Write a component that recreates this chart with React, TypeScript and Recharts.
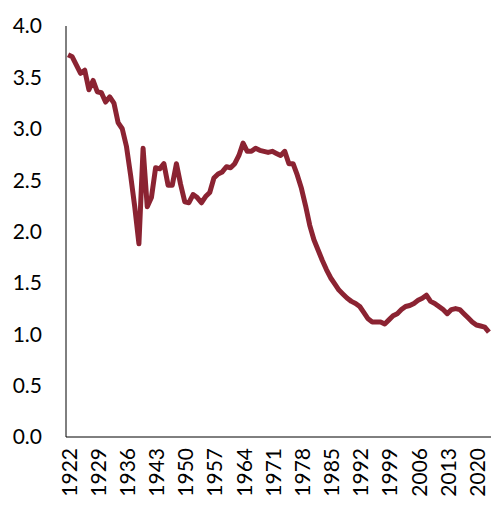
import React from "react";
import { LineChart, Line, XAxis, YAxis } from "recharts";

const years = [
  1922, 1923, 1924, 1925, 1926, 1927, 1928, 1929, 1930, 1931, 1932, 1933, 1934, 1935, 1936, 1937, 1938,
  1939, 1940, 1941, 1942, 1943, 1944, 1945, 1946, 1947, 1948, 1949, 1950, 1951, 1952, 1953, 1954, 1955,
  1956, 1957, 1958, 1959, 1960, 1961, 1962, 1963, 1964, 1965, 1966, 1967, 1968, 1969, 1970, 1971, 1972,
  1973, 1974, 1975, 1976, 1977, 1978, 1979, 1980, 1981, 1982, 1983, 1984, 1985, 1986, 1987, 1988, 1989,
  1990, 1991, 1992, 1993, 1994, 1995, 1996, 1997, 1998, 1999, 2000, 2001, 2002, 2003, 2004, 2005, 2006,
  2007, 2008, 2009, 2010, 2011, 2012, 2013, 2014, 2015, 2016, 2017, 2018, 2019, 2020, 2021, 2022, 2023
];

const values = [
  3.72, 3.7, 3.62, 3.54, 3.57, 3.38, 3.47, 3.36, 3.35, 3.26, 3.31, 3.25, 3.06, 3.0, 2.83, 2.55, 2.24,
  1.88, 2.81, 2.24, 2.33, 2.62, 2.61, 2.66, 2.45, 2.45, 2.66, 2.46, 2.29, 2.28, 2.36, 2.33, 2.28, 2.34,
  2.38, 2.52, 2.56, 2.58, 2.63, 2.62, 2.66, 2.74, 2.86, 2.78, 2.78, 2.81, 2.79, 2.78, 2.77, 2.78, 2.76,
  2.74, 2.78, 2.66, 2.66, 2.55, 2.42, 2.25, 2.06, 1.92, 1.82, 1.72, 1.63, 1.55, 1.49, 1.43, 1.39, 1.35,
  1.32, 1.3, 1.27, 1.21, 1.15, 1.12, 1.12, 1.12, 1.1, 1.14, 1.18, 1.2, 1.24, 1.27, 1.28, 1.3, 1.33,
  1.35, 1.38, 1.32, 1.3, 1.27, 1.24, 1.2, 1.24, 1.25, 1.24, 1.2, 1.16, 1.12, 1.09, 1.08, 1.07, 1.02
];

const xTicks = [1922, 1929, 1936, 1943, 1950, 1957, 1964, 1971, 1978, 1985, 1992, 1999, 2006, 2013, 2020];
const yTicks = [0, 0.5, 1, 1.5, 2, 2.5, 3, 3.5, 4];

const data = years.map((year, i) => ({ year, value: values[i] }));

const font = "Lato, 'Noto Sans', sans-serif";

const YearTick = (props: any) => {
  const { x, y, payload } = props;
  return (
    <text
      transform={`translate(${x},${y + 11}) rotate(-90)`}
      textAnchor="end"
      dominantBaseline="central"
      fontFamily={font}
      fontSize={21}
      fill="#000"
    >
      {payload.value}
    </text>
  );
};

export default function App() {
  return (
    <div style={{ position: "absolute", left: 0, top: 0 }}>
      <LineChart
        width={492}
        height={505}
        data={data}
        margin={{ top: 26, right: 1, bottom: 0, left: 0 }}
      >
        <XAxis
          dataKey="year"
          type="number"
          domain={[1921.5, 2023.5]}
          ticks={xTicks}
          interval={0}
          height={68}
          tickLine={false}
          tickSize={0}
          tickMargin={0}
          axisLine={{ stroke: "#000", strokeWidth: 1 }}
          tick={<YearTick />}
        />
        <YAxis
          domain={[0, 4]}
          ticks={yTicks}
          width={66}
          tickLine={false}
          tickSize={0}
          tickMargin={24}
          axisLine={{ stroke: "#000", strokeWidth: 1 }}
          tickFormatter={(v: number) => v.toFixed(1)}
          tick={{ fill: "#000", fontSize: 21, fontFamily: font }}
        />
        <Line
          dataKey="value"
          type="linear"
          stroke="#8B2332"
          strokeWidth={5}
          strokeLinejoin="round"
          dot={false}
          isAnimationActive={false}
        />
      </LineChart>
    </div>
  );
}
